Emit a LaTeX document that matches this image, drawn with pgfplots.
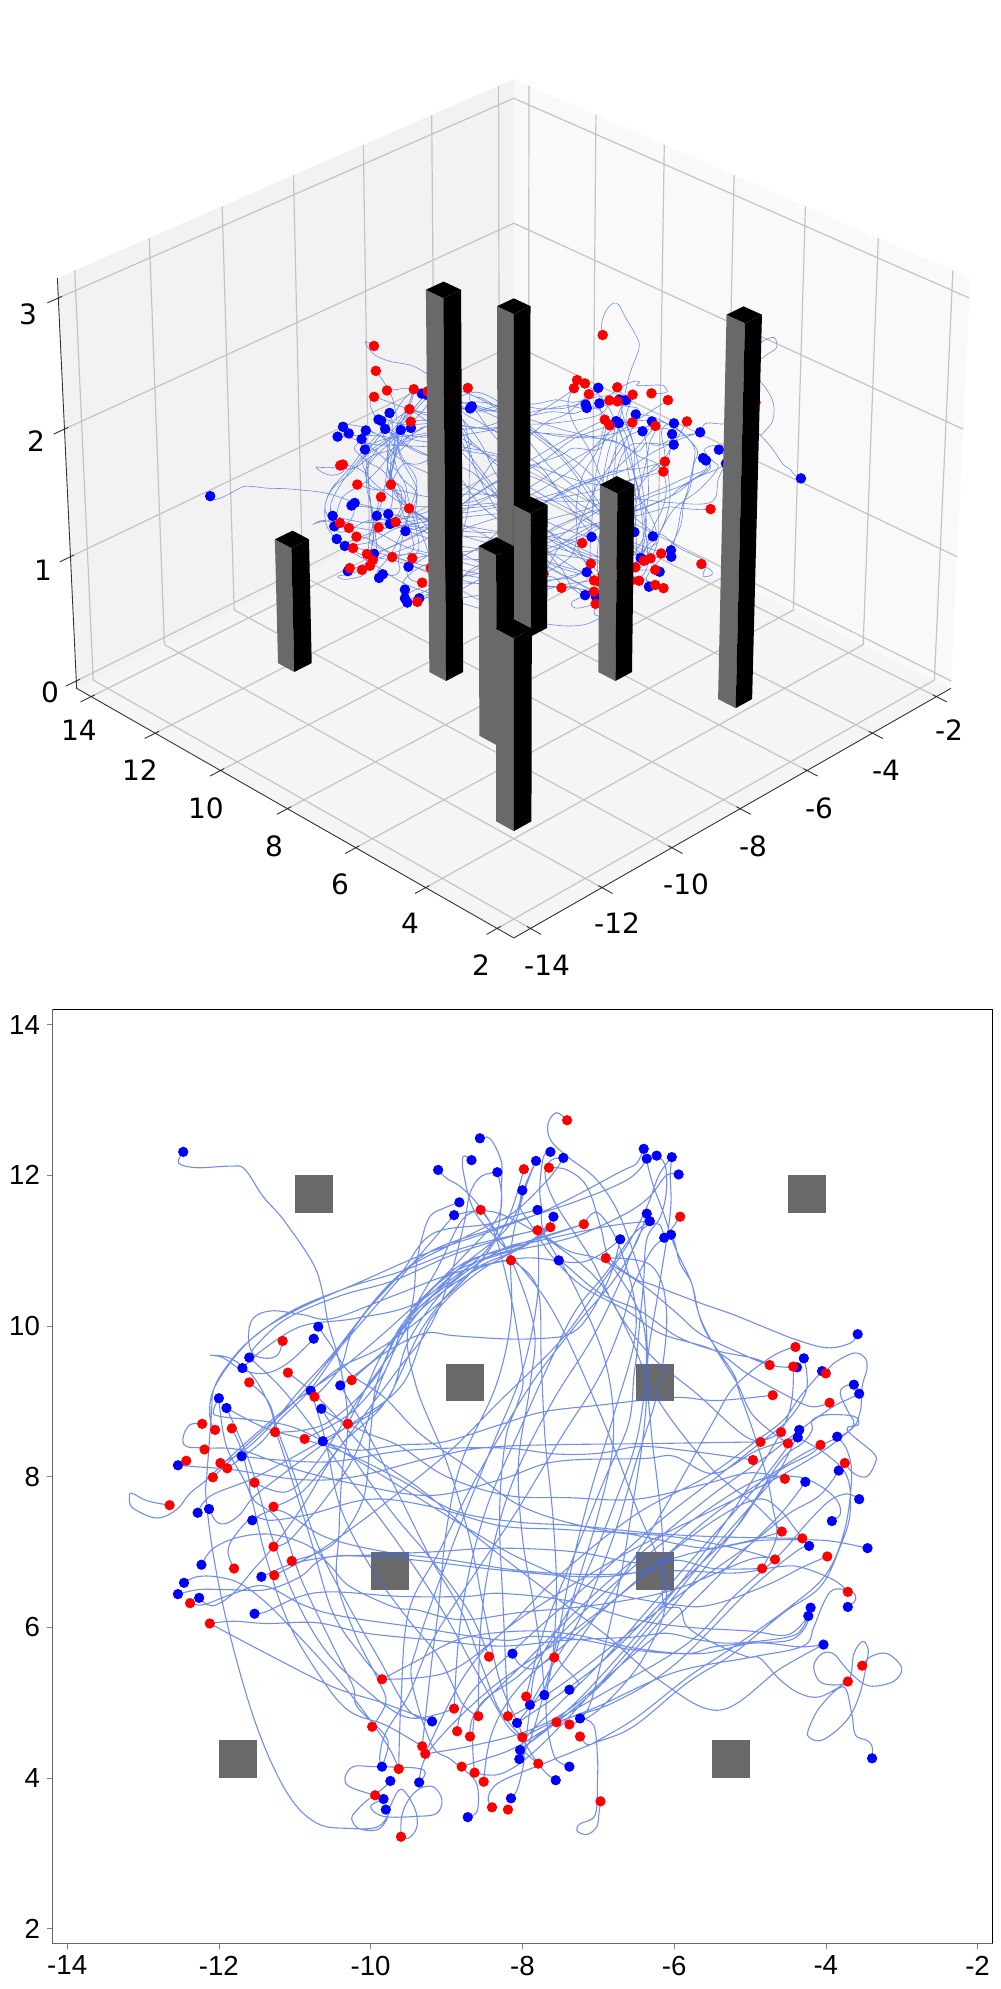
\documentclass[border=0pt]{standalone}
\usepackage{pgfplots}
\usepackage{pgfplotstable}
\usepackage{fontspec}
\setmainfont{Liberation Sans}
\newfontfamily\djv{DejaVu Sans}
\pgfplotsset{compat=1.18}
\definecolor{traj}{HTML}{4169E1}
\definecolor{obst}{HTML}{696969}
\definecolor{gridc}{HTML}{C4C4C4}

% start / end points, x y z
\pgfplotstableread{
x y z
-12.47 12.31 1.5
-9.11 12.07 1.55
-8.67 12.20 1.5
-8.56 12.49 1.5
-8.33 12.04 1.5
-8.83 11.64 1.55
-8.90 11.47 1.5
-10.69 9.99 1.5
-10.75 9.83 1.55
-11.60 9.58 1.6
-11.69 9.44 1.55
-10.40 9.21 1.5
-10.79 9.14 1.55
-10.65 8.90 1.5
-12.00 9.04 1.55
-11.90 8.91 1.5
-10.63 8.47 1.5
-11.70 8.27 1.5
-12.54 8.15 1.5
-6.40 12.35 1.5
-6.36 12.22 1.5
-6.23 12.26 1.5
-6.03 12.24 1.5
-5.94 12.01 1.5
-7.63 12.31 1.45
-7.46 12.23 1.5
-7.82 12.19 1.5
-8.00 11.80 1.5
-7.80 11.54 1.5
-7.59 11.45 1.5
-6.36 11.49 1.5
-6.32 11.39 1.5
-6.71 11.15 1.5
-6.13 11.17 1.5
-6.04 11.21 1.5
-7.52 10.87 1.45
-3.58 9.89 1.5
-4.29 9.57 1.5
-4.38 9.45 1.5
-4.05 9.40 1.5
-3.63 9.22 1.5
-3.56 9.10 1.5
-4.35 8.62 1.5
-4.37 8.52 1.5
-3.85 8.53 1.5
-3.83 8.08 1.5
-4.27 7.93 1.5
-3.56 7.70 1.5
-12.28 7.52 1.5
-12.13 7.57 1.5
-11.56 7.42 1.5
-12.23 6.83 1.5
-11.44 6.67 1.5
-12.46 6.59 1.5
-12.54 6.44 1.5
-12.26 6.39 1.5
-11.53 6.18 1.5
-9.19 4.75 1.5
-9.85 4.15 1.5
-9.74 3.96 1.5
-9.36 3.94 1.5
-9.83 3.72 1.5
-9.80 3.58 1.5
-8.72 3.48 1.5
-3.92 7.41 1.5
-4.22 7.08 1.5
-3.45 7.05 1.5
-4.20 6.26 1.5
-4.23 6.15 1.5
-3.71 6.27 1.5
-4.03 5.77 1.5
-3.39 4.26 1.5
-8.13 5.65 1.5
-7.38 5.17 1.5
-7.71 5.10 1.5
-7.90 4.97 1.5
-8.07 4.73 1.5
-7.24 4.79 1.5
-8.03 4.37 1.5
-8.04 4.25 1.5
-7.38 4.15 1.5
-7.56 3.97 1.5
-8.15 3.73 1.5
}\bluepts
\pgfplotstableread{
x y z
-8.55 11.54 1.86
-11.16 9.80 1.9
-11.09 9.38 1.8
-11.60 9.25 2.04
-10.25 9.28 1.7
-10.74 9.06 1.7
-12.22 8.70 1.75
-12.05 8.62 1.7
-11.83 8.64 1.6
-11.26 8.59 1.6
-10.30 8.70 1.6
-10.87 8.50 1.6
-12.19 8.36 1.6
-12.43 8.21 1.5
-11.98 8.18 1.55
-11.89 8.11 1.5
-12.08 7.99 1.5
-11.53 7.92 1.5
-7.41 12.73 1.96
-7.98 12.08 1.92
-7.65 12.10 1.72
-7.80 11.27 1.7
-7.63 11.31 1.83
-7.19 11.35 1.75
-8.15 10.87 1.7
-6.90 10.90 1.7
-5.92 11.45 1.6
-4.40 9.72 1.69
-4.74 9.48 1.7
-4.43 9.46 1.7
-4.00 9.37 2.04
-4.70 9.08 1.7
-3.95 8.98 1.67
-4.59 8.59 1.7
-4.86 8.46 1.6
-4.50 8.44 1.7
-4.07 8.42 1.7
-4.96 8.22 1.6
-3.75 8.18 1.7
-4.54 7.97 1.6
-12.65 7.62 1.6
-11.28 7.60 1.5
-11.28 7.07 1.5
-11.04 6.88 1.5
-11.80 6.78 1.5
-11.27 6.69 1.5
-12.38 6.32 1.5
-12.12 6.05 1.5
-9.85 5.31 1.5
-9.98 4.68 1.5
-8.44 5.61 1.5
-8.90 4.92 1.5
-8.58 4.82 1.45
-8.86 4.62 1.45
-8.69 4.55 1.45
-9.32 4.42 1.5
-9.28 4.32 1.5
-9.63 4.12 1.5
-8.80 4.15 1.45
-8.63 4.07 1.45
-8.51 3.95 1.45
-9.94 3.77 1.5
-8.40 3.61 1.45
-9.60 3.22 1.5
-4.58 7.27 1.67
-4.31 7.18 1.85
-3.98 6.94 1.67
-4.67 6.90 1.45
-4.84 6.78 1.41
-3.71 6.47 1.0
-3.52 5.49 2.2
-3.71 5.28 2.0
-7.58 5.60 1.4
-7.95 5.08 1.4
-8.19 4.82 1.4
-8.00 4.54 1.4
-7.55 4.74 1.36
-7.38 4.71 1.36
-7.24 4.55 1.4
-7.79 4.19 1.4
-6.97 3.69 1.4
-8.19 3.58 1.4
}\redpts

% flight paths, nan row between two paths
\pgfplotstableread[row sep=\\]{
x y z\\
-12.47 12.31 1.5\\ -12.53 12.16 1.5\\ -12.29 12.10 1.5\\ -11.85 12.12 1.5\\ -11.66 12.08 1.5\\ -11.42 11.72 1.5\\ -11.15 11.41 1.5\\ -10.76 10.83 1.5\\ -10.63 10.43 1.5\\ -10.56 10.04 1.5\\ -10.40 9.46 1.5\\ -10.30 8.72 1.5\\ -10.38 8.00 1.5\\ -10.42 7.20 1.5\\ -10.44 6.60 1.5\\ -10.20 5.90 1.5\\ -9.90 5.30 1.5\\ -9.80 5.00 1.5\\ -9.98 4.68 1.5\\ nan nan nan\\
-9.11 12.07 1.55\\ -9.00 11.96 1.55\\ -8.82 11.85 1.55\\ -8.60 11.63 1.55\\ -8.38 11.27 1.55\\ -8.20 10.60 1.5\\ -8.08 10.00 1.5\\ -7.99 9.30 1.5\\ -8.07 8.95 1.5\\ -8.22 8.50 1.5\\ -8.30 7.50 1.45\\ -8.25 6.20 1.4\\ -8.19 4.82 1.4\\ nan nan nan\\
-8.67 12.20 1.5\\ -8.78 12.25 1.5\\ -8.77 12.00 1.5\\ -8.62 11.50 1.5\\ -8.20 11.00 1.5\\ -7.60 10.20 1.5\\ -7.00 8.90 1.5\\ -6.50 7.60 1.45\\ -6.10 6.50 1.45\\ -6.40 5.60 1.4\\ -7.00 4.90 1.4\\ -7.38 4.71 1.36\\ nan nan nan\\
-8.56 12.49 1.5\\ -8.43 12.49 1.5\\ -8.30 12.25 1.5\\ -8.27 12.00 1.5\\ -8.35 11.20 1.5\\ -8.80 10.70 1.5\\ -9.50 10.10 1.5\\ -9.90 9.30 1.5\\ -10.00 8.60 1.5\\ -10.10 7.70 1.5\\ -10.50 7.10 1.5\\ -11.04 6.88 1.5\\ nan nan nan\\
-8.33 12.04 1.5\\ -8.55 11.98 1.5\\ -8.69 11.76 1.5\\ -8.76 11.40 1.5\\ -8.91 10.79 1.5\\ -9.09 10.26 1.5\\ -9.30 9.86 1.5\\ -9.61 9.46 1.5\\ -9.95 9.00 1.5\\ -10.40 8.40 1.5\\ -10.90 7.80 1.5\\ -11.28 7.60 1.5\\ nan nan nan\\
-8.83 11.64 1.55\\ -9.04 11.56 1.55\\ -9.22 11.45 1.55\\ -9.33 11.14 1.55\\ -9.40 10.79 1.55\\ -9.44 10.35 1.55\\ -9.57 9.90 1.5\\ -9.83 9.50 1.5\\ -10.14 9.06 1.5\\ -10.70 8.20 1.5\\ -11.10 7.80 1.5\\ -11.53 7.92 1.5\\ nan nan nan\\
-8.90 11.47 1.5\\ -8.55 11.53 1.5\\ -8.20 11.45 1.5\\ -7.60 11.10 1.5\\ -7.00 10.60 1.55\\ -6.60 9.90 1.55\\ -6.20 9.00 1.6\\ -5.50 8.10 1.6\\ -4.90 7.60 1.65\\ -4.58 7.27 1.67\\ nan nan nan\\
-10.69 9.99 1.5\\ -10.54 9.77 1.5\\ -10.27 9.37 1.5\\ -9.83 9.06 1.5\\ -9.35 8.57 1.5\\ -8.73 8.13 1.5\\ -8.00 7.60 1.5\\ -7.00 7.30 1.5\\ -6.00 7.20 1.5\\ -5.20 7.05 1.45\\ -4.67 6.90 1.45\\ nan nan nan\\
-10.75 9.83 1.55\\ -11.10 9.50 1.55\\ -11.40 9.37 1.55\\ -11.70 9.42 1.6\\ -11.95 9.58 1.6\\ -12.12 9.61 1.6\\ -11.85 9.57 1.6\\ -11.55 9.33 1.55\\ -11.33 8.93 1.55\\ -11.24 8.58 1.55\\ -11.06 8.03 1.5\\ -10.80 7.20 1.5\\ -10.50 6.20 1.5\\ -10.10 5.60 1.5\\ -9.85 5.31 1.5\\ nan nan nan\\
-11.60 9.58 1.6\\ -11.50 9.75 1.6\\ -11.10 10.10 1.6\\ -10.40 10.40 1.65\\ -9.70 10.60 1.7\\ -8.90 10.95 1.7\\ -8.10 11.20 1.8\\ -7.63 11.31 1.83\\ nan nan nan\\
-11.69 9.44 1.55\\ -11.40 9.70 1.55\\ -10.90 10.00 1.6\\ -10.20 10.10 1.6\\ -9.40 10.30 1.65\\ -8.70 10.85 1.7\\ -8.00 11.10 1.7\\ -7.19 11.35 1.75\\ nan nan nan\\
-6.71 11.15 1.5\\ -7.20 10.85 1.5\\ -8.00 10.90 1.55\\ -8.90 10.70 1.6\\ -9.70 10.40 1.7\\ -10.50 10.10 1.75\\ -10.90 10.15 1.8\\ -11.30 10.20 1.85\\ -11.55 10.10 1.9\\ -11.61 9.85 1.9\\ -11.55 9.63 1.9\\ -11.37 9.57 1.9\\ -11.22 9.62 1.9\\ -11.16 9.80 1.9\\ nan nan nan\\
-10.40 9.21 1.5\\ -9.90 9.60 1.5\\ -9.30 10.25 1.55\\ -8.60 10.75 1.6\\ -8.15 10.87 1.7\\ nan nan nan\\
-10.79 9.14 1.55\\ -10.40 9.45 1.6\\ -9.80 9.75 1.65\\ -9.10 10.30 1.7\\ -8.60 10.80 1.75\\ -8.20 11.40 1.85\\ -7.98 12.08 1.92\\ nan nan nan\\
-10.65 8.90 1.5\\ -10.49 8.80 1.5\\ -10.05 8.58 1.5\\ -9.61 8.40 1.5\\ -9.00 8.00 1.5\\ -8.20 7.75 1.5\\ -7.40 7.72 1.5\\ -6.50 7.70 1.55\\ -5.60 7.90 1.6\\ -5.00 8.05 1.6\\ -4.54 7.97 1.6\\ nan nan nan\\
-12.00 9.04 1.55\\ -12.07 8.88 1.55\\ -11.99 8.80 1.55\\ -11.37 8.73 1.55\\ -10.93 8.62 1.55\\ -10.27 8.27 1.55\\ -9.39 7.73 1.55\\ -8.70 7.30 1.55\\ -8.00 6.90 1.6\\ -7.00 6.50 1.6\\ -6.00 6.30 1.6\\ -5.50 6.30 1.6\\ -4.80 6.55 1.65\\ -4.30 6.80 1.65\\ -3.98 6.94 1.67\\ nan nan nan\\
-11.90 8.91 1.5\\ -11.40 8.65 1.5\\ -10.90 8.50 1.55\\ -10.30 8.30 1.55\\ -9.60 7.95 1.6\\ -8.90 7.55 1.6\\ -8.10 7.40 1.65\\ -7.30 7.35 1.7\\ -6.30 7.25 1.75\\ -5.40 7.20 1.8\\ -4.31 7.18 1.85\\ nan nan nan\\
-10.63 8.47 1.5\\ -10.20 8.35 1.5\\ -9.61 8.42 1.5\\ -9.04 8.46 1.55\\ -8.29 8.69 1.55\\ -7.72 8.86 1.6\\ -6.97 8.95 1.6\\ -6.01 9.05 1.65\\ -5.44 9.01 1.65\\ -4.70 9.08 1.7\\ nan nan nan\\
-11.70 8.27 1.5\\ -11.20 8.22 1.5\\ -10.49 8.20 1.5\\ -9.50 8.35 1.5\\ -8.29 8.38 1.55\\ -7.55 8.30 1.55\\ -6.98 8.31 1.55\\ -6.45 8.40 1.55\\ -5.88 8.35 1.6\\ -5.22 8.26 1.6\\ -4.96 8.22 1.6\\ nan nan nan\\
-12.54 8.15 1.5\\ -12.30 8.13 1.5\\ -11.81 8.09 1.5\\ -10.93 7.96 1.5\\ -10.20 8.00 1.5\\ -9.20 8.25 1.55\\ -8.29 8.40 1.55\\ -6.18 8.44 1.6\\ -4.86 8.46 1.6\\ nan nan nan\\
-6.40 12.35 1.5\\ -6.50 12.15 1.5\\ -6.70 12.05 1.5\\ -7.59 11.58 1.55\\ -8.29 11.30 1.55\\ -9.30 10.95 1.6\\ -10.10 10.60 1.6\\ -11.00 10.20 1.65\\ -11.60 9.80 1.65\\ -12.05 9.20 1.7\\ -12.12 8.80 1.7\\ -12.05 8.62 1.7\\ nan nan nan\\
-6.36 12.22 1.5\\ -6.34 12.10 1.5\\ -6.27 11.85 1.5\\ -6.14 11.50 1.5\\ -5.99 11.05 1.55\\ -5.77 10.57 1.55\\ -5.66 10.12 1.6\\ -5.44 9.68 1.6\\ -5.17 9.24 1.65\\ -4.95 8.80 1.65\\ -4.50 8.44 1.7\\ nan nan nan\\
-6.23 12.26 1.5\\ -6.12 12.14 1.5\\ -6.10 11.80 1.5\\ -6.18 11.45 1.5\\ -6.36 11.15 1.5\\ -6.40 10.60 1.5\\ -6.45 10.08 1.5\\ -6.49 9.64 1.5\\ -6.53 9.33 1.45\\ -6.60 8.70 1.45\\ -6.90 8.00 1.45\\ -7.30 7.00 1.4\\ -7.70 6.00 1.4\\ -7.95 5.08 1.4\\ nan nan nan\\
-6.03 12.24 1.5\\ -6.20 12.00 1.5\\ -6.35 11.60 1.5\\ -6.60 11.10 1.5\\ -7.00 10.50 1.5\\ -7.50 9.80 1.5\\ -8.30 9.00 1.5\\ -9.00 8.30 1.5\\ -10.00 7.50 1.5\\ -10.70 7.00 1.5\\ -11.27 6.69 1.5\\ nan nan nan\\
-5.94 12.01 1.5\\ -6.10 12.00 1.5\\ -6.32 11.72 1.5\\ -6.62 11.50 1.5\\ -7.19 11.23 1.5\\ -7.63 11.10 1.55\\ -8.29 10.95 1.55\\ -9.00 10.65 1.55\\ -9.60 10.00 1.6\\ -9.95 9.30 1.6\\ -10.60 8.70 1.6\\ -11.26 8.59 1.6\\ nan nan nan\\
-7.63 12.31 1.45\\ -7.72 12.25 1.45\\ -7.77 11.85 1.45\\ -7.75 11.58 1.45\\ -7.70 11.20 1.45\\ -7.30 10.50 1.45\\ -6.90 9.50 1.45\\ -6.80 8.50 1.45\\ -7.00 7.50 1.4\\ -7.30 6.50 1.4\\ -7.58 5.60 1.4\\ nan nan nan\\
-7.24 4.79 1.5\\ -7.10 5.00 1.5\\ -6.90 5.80 1.5\\ -6.70 6.70 1.55\\ -6.55 7.60 1.6\\ -6.40 8.60 1.6\\ -6.35 9.50 1.65\\ -6.40 10.48 1.7\\ -6.45 10.70 1.7\\ -6.71 11.45 1.75\\ -7.02 11.94 1.85\\ -7.41 12.25 1.9\\ -7.63 12.47 1.95\\ -7.66 12.69 2.0\\ -7.55 12.83 2.0\\ -7.41 12.73 1.96\\ nan nan nan\\
-7.46 12.23 1.5\\ -7.62 12.20 1.5\\ -7.70 12.00 1.5\\ -7.55 11.60 1.5\\ -7.10 10.90 1.55\\ -6.75 10.20 1.55\\ -6.30 9.60 1.6\\ -5.70 9.10 1.6\\ -5.00 8.50 1.65\\ -4.59 8.59 1.7\\ nan nan nan\\
-3.58 9.89 1.5\\ -3.68 9.77 1.5\\ -3.99 9.71 1.5\\ -4.40 9.82 1.5\\ -4.78 9.97 1.55\\ -5.22 10.15 1.55\\ -5.70 10.32 1.6\\ -6.30 10.55 1.6\\ -6.50 10.62 1.6\\ -6.85 10.90 1.65\\ -6.97 11.32 1.65\\ -7.15 11.85 1.7\\ -7.41 12.07 1.7\\ -7.65 12.10 1.72\\ nan nan nan\\
-7.82 12.19 1.5\\ -8.00 11.70 1.5\\ -8.15 11.00 1.5\\ -8.15 10.10 1.5\\ -8.35 9.20 1.5\\ -8.80 8.20 1.5\\ -9.00 7.30 1.5\\ -9.10 6.30 1.5\\ -9.20 5.50 1.5\\ -9.32 4.42 1.5\\ nan nan nan\\
-8.00 11.80 1.5\\ -8.03 11.58 1.5\\ -7.90 11.36 1.5\\ -7.59 10.90 1.5\\ -7.20 10.52 1.55\\ -6.62 10.20 1.55\\ -6.18 9.90 1.6\\ -5.48 9.68 1.6\\ -5.04 9.37 1.6\\ -4.56 9.10 1.65\\ -4.20 8.93 1.65\\ -3.95 8.98 1.67\\ nan nan nan\\
-7.80 11.54 1.5\\ -8.29 11.40 1.5\\ -8.90 11.10 1.55\\ -9.60 10.70 1.55\\ -10.20 10.00 1.6\\ -10.40 9.45 1.65\\ -10.74 9.06 1.7\\ nan nan nan\\
-7.59 11.45 1.5\\ -7.90 11.10 1.5\\ -8.60 10.85 1.5\\ -9.30 10.30 1.55\\ -9.80 9.70 1.55\\ -10.05 9.20 1.6\\ -10.30 8.70 1.6\\ nan nan nan\\
-6.36 11.49 1.5\\ -6.50 11.10 1.5\\ -6.80 10.60 1.5\\ -7.30 10.00 1.5\\ -7.90 9.20 1.5\\ -8.60 8.00 1.5\\ -9.10 7.00 1.5\\ -9.50 6.20 1.5\\ -9.60 5.00 1.5\\ -9.63 4.12 1.5\\ nan nan nan\\
-6.32 11.39 1.5\\ -6.55 11.20 1.5\\ -6.90 10.70 1.5\\ -7.30 10.20 1.5\\ -7.60 9.60 1.5\\ -8.00 8.70 1.5\\ -8.50 7.50 1.5\\ -8.80 6.20 1.5\\ -8.90 4.92 1.5\\ nan nan nan\\
-6.13 11.17 1.5\\ -6.20 11.35 1.5\\ -6.40 11.30 1.5\\ -6.55 11.00 1.5\\ -6.75 10.50 1.5\\ -7.10 9.80 1.5\\ -7.60 9.00 1.5\\ -8.10 8.00 1.5\\ -8.40 7.00 1.5\\ -8.55 6.00 1.45\\ -8.58 4.82 1.45\\ nan nan nan\\
-6.04 11.21 1.5\\ -5.99 11.10 1.5\\ -5.92 10.83 1.5\\ -5.77 10.57 1.5\\ -5.70 10.25 1.5\\ -5.57 9.90 1.5\\ -5.22 9.37 1.45\\ -5.15 9.15 1.45\\ -4.95 8.58 1.45\\ -4.78 8.00 1.45\\ -4.70 7.60 1.4\\ -4.65 7.20 1.4\\ -4.84 6.78 1.41\\ nan nan nan\\
-9.85 4.15 1.5\\ -9.88 4.28 1.5\\ -9.80 4.60 1.5\\ -9.50 5.10 1.5\\ -9.20 5.80 1.5\\ -8.70 6.60 1.5\\ -8.10 7.50 1.5\\ -7.50 8.50 1.55\\ -7.00 9.30 1.55\\ -6.70 10.00 1.55\\ -6.55 10.50 1.6\\ -6.30 11.00 1.6\\ -6.10 11.20 1.6\\ -5.92 11.45 1.6\\ nan nan nan\\
-7.52 10.87 1.45\\ -7.42 10.80 1.45\\ -6.97 10.43 1.5\\ -6.45 10.20 1.5\\ -5.96 9.86 1.55\\ -5.48 9.68 1.6\\ -4.95 9.57 1.65\\ -4.74 9.48 1.7\\ nan nan nan\\
-4.29 9.57 1.5\\ -4.25 9.37 1.5\\ -4.27 9.10 1.5\\ -4.50 8.75 1.5\\ -4.86 8.45 1.5\\ -5.43 8.00 1.5\\ -6.20 7.40 1.5\\ -7.10 6.60 1.5\\ -8.00 5.80 1.45\\ -8.70 5.10 1.45\\ -8.86 4.62 1.45\\ nan nan nan\\
-4.38 9.45 1.5\\ -4.74 9.48 1.5\\ -5.22 9.68 1.55\\ -5.66 9.90 1.55\\ -6.00 10.20 1.6\\ -6.45 10.57 1.6\\ -6.97 10.88 1.65\\ -7.40 11.00 1.65\\ -7.80 11.27 1.7\\ nan nan nan\\
-4.05 9.40 1.5\\ -4.34 9.06 1.5\\ -4.56 8.75 1.5\\ -4.95 8.45 1.5\\ -5.57 8.00 1.5\\ -6.50 7.50 1.5\\ -7.50 6.70 1.5\\ -8.30 5.90 1.5\\ -9.00 5.40 1.5\\ -9.85 5.31 1.5\\ nan nan nan\\
-3.63 9.22 1.5\\ -3.75 9.20 1.5\\ -3.81 9.10 1.5\\ -3.70 8.85 1.5\\ -3.63 8.72 1.5\\ -3.70 8.60 1.5\\ -4.10 8.30 1.5\\ -4.80 7.90 1.5\\ -5.60 7.50 1.5\\ -6.60 7.00 1.5\\ -7.60 6.40 1.5\\ -8.30 5.90 1.5\\ -8.80 5.30 1.5\\ -9.28 4.32 1.5\\ nan nan nan\\
-3.56 9.10 1.5\\ -3.72 9.02 1.5\\ -3.90 8.93 1.5\\ -4.34 8.62 1.5\\ -4.78 8.27 1.5\\ -5.22 7.96 1.5\\ -5.57 7.70 1.5\\ -6.30 7.10 1.5\\ -7.20 6.30 1.45\\ -8.00 5.50 1.45\\ -8.60 4.90 1.45\\ -8.69 4.55 1.45\\ nan nan nan\\
-9.36 3.94 1.5\\ -9.20 4.40 1.5\\ -8.40 5.20 1.55\\ -7.40 5.90 1.6\\ -6.50 6.60 1.65\\ -5.60 7.40 1.7\\ -4.90 7.90 1.8\\ -4.30 8.30 1.9\\ -3.70 8.60 2.0\\ -3.55 8.85 2.05\\ -3.52 9.20 2.15\\ -3.46 9.42 2.2\\ -3.48 9.57 2.2\\ -3.63 9.64 2.15\\ -3.90 9.50 2.1\\ -4.00 9.37 2.04\\ nan nan nan\\
-12.13 7.57 1.5\\ -12.03 7.40 1.5\\ -11.90 7.38 1.5\\ -11.72 7.50 1.5\\ -11.55 7.72 1.5\\ -11.20 8.00 1.55\\ -10.40 8.60 1.6\\ -9.60 9.20 1.65\\ -9.20 10.10 1.7\\ -8.60 10.70 1.75\\ -7.90 11.10 1.8\\ -7.63 11.31 1.83\\ nan nan nan\\
-12.28 7.52 1.5\\ -12.10 7.75 1.5\\ -11.50 8.00 1.5\\ -10.60 8.50 1.55\\ -9.80 9.00 1.6\\ -9.50 9.80 1.6\\ -9.00 10.50 1.65\\ -8.30 11.00 1.7\\ -7.80 11.15 1.72\\ -7.19 11.35 1.75\\ nan nan nan\\
-3.45 7.05 1.5\\ -3.90 7.14 1.5\\ -4.25 7.16 1.5\\ -4.90 7.15 1.5\\ -5.57 7.05 1.5\\ -6.30 7.18 1.5\\ -6.70 7.25 1.5\\ -7.50 7.30 1.5\\ -8.30 7.35 1.5\\ -9.20 7.60 1.5\\ -10.00 7.70 1.5\\ -10.80 7.50 1.5\\ -11.30 7.42 1.5\\ -11.56 7.45 1.5\\ -11.80 7.20 1.5\\ -11.88 7.00 1.5\\ -11.80 6.78 1.5\\ nan nan nan\\
-11.56 7.42 1.5\\ -11.20 7.55 1.5\\ -10.60 7.20 1.5\\ -9.80 7.00 1.45\\ -9.00 6.90 1.4\\ -8.00 6.75 1.35\\ -7.00 6.70 1.3\\ -6.00 6.75 1.2\\ -5.20 6.72 1.15\\ -4.65 6.80 1.1\\ -4.34 6.80 1.05\\ -3.90 6.63 1.0\\ -3.71 6.47 1.0\\ nan nan nan\\
-12.23 6.83 1.5\\ -12.07 7.05 1.5\\ -11.72 7.20 1.5\\ -11.28 7.23 1.5\\ -10.80 7.07 1.5\\ -10.50 6.78 1.5\\ -10.27 6.54 1.5\\ -9.70 6.27 1.5\\ -9.39 6.23 1.5\\ -8.80 6.10 1.5\\ -8.00 6.20 1.5\\ -7.00 6.30 1.5\\ -6.00 6.50 1.45\\ -5.00 6.90 1.45\\ -4.67 6.90 1.45\\ nan nan nan\\
-11.44 6.67 1.5\\ -11.37 6.70 1.5\\ -11.15 6.80 1.5\\ -10.93 6.87 1.5\\ -10.49 6.94 1.5\\ -10.05 6.94 1.5\\ -9.39 6.89 1.5\\ -8.29 6.76 1.5\\ -7.19 6.67 1.45\\ -6.54 6.72 1.45\\ -6.00 6.89 1.45\\ -5.48 6.78 1.45\\ -4.84 6.78 1.41\\ nan nan nan\\
-12.46 6.59 1.5\\ -12.29 6.67 1.5\\ -12.03 6.67 1.5\\ -11.72 6.58 1.5\\ -11.37 6.32 1.5\\ -11.02 5.96 1.5\\ -10.58 5.48 1.5\\ -10.14 4.95 1.5\\ -9.77 4.42 1.5\\ -9.63 4.12 1.5\\ nan nan nan\\
-12.54 6.44 1.5\\ -12.26 6.50 1.5\\ -11.90 6.50 1.5\\ -11.37 6.50 1.5\\ -10.93 6.67 1.5\\ -10.60 6.92 1.5\\ -10.00 6.96 1.5\\ -9.20 7.00 1.55\\ -8.30 7.05 1.55\\ -7.30 7.00 1.6\\ -6.40 6.85 1.6\\ -5.70 7.00 1.6\\ -5.00 7.15 1.65\\ -4.58 7.27 1.67\\ nan nan nan\\
-12.26 6.39 1.5\\ -12.15 6.30 1.5\\ -12.03 6.30 1.5\\ -11.81 6.45 1.5\\ -11.55 6.76 1.5\\ -11.28 7.07 1.55\\ -10.90 7.60 1.55\\ -10.40 8.40 1.6\\ -9.80 9.00 1.65\\ -9.30 10.00 1.7\\ -8.70 10.70 1.75\\ -8.10 11.00 1.8\\ -7.63 11.31 1.83\\ nan nan nan\\
-11.53 6.18 1.5\\ -11.37 6.21 1.5\\ -10.93 6.41 1.5\\ -10.49 6.47 1.5\\ -9.61 6.41 1.5\\ -8.73 6.41 1.5\\ -8.29 6.45 1.5\\ -7.40 6.35 1.5\\ -6.50 6.10 1.5\\ -5.80 6.00 1.5\\ -5.00 5.95 1.5\\ -4.50 5.90 1.5\\ -4.23 6.15 1.5\\ nan nan nan\\
-4.20 6.26 1.5\\ -4.30 6.00 1.5\\ -4.50 5.87 1.5\\ -5.22 5.79 1.5\\ -5.66 5.83 1.5\\ -6.10 5.92 1.5\\ -6.54 5.87 1.5\\ -7.40 5.83 1.5\\ -8.29 5.75 1.5\\ -9.17 5.83 1.5\\ -10.05 5.92 1.5\\ -10.71 6.06 1.5\\ -11.37 6.05 1.5\\ -11.81 6.08 1.5\\ -12.12 6.05 1.5\\ nan nan nan\\
-4.23 6.15 1.5\\ -4.27 6.00 1.5\\ -4.47 5.83 1.5\\ -4.95 5.79 1.5\\ -5.48 5.74 1.5\\ -5.83 5.65 1.5\\ -6.54 5.70 1.5\\ -7.20 5.83 1.5\\ -7.85 5.88 1.5\\ -8.29 5.83 1.5\\ -9.40 6.00 1.5\\ -10.40 6.15 1.5\\ -10.90 6.30 1.5\\ -11.40 6.55 1.5\\ -11.80 6.45 1.5\\ -12.20 6.30 1.5\\ -12.38 6.32 1.5\\ nan nan nan\\
-4.03 5.77 1.5\\ -4.34 5.74 1.5\\ -4.95 5.79 1.5\\ -5.66 5.65 1.5\\ -6.50 5.72 1.5\\ -7.30 5.90 1.5\\ -8.00 5.95 1.5\\ -8.80 5.85 1.5\\ -9.40 5.55 1.5\\ -9.85 5.31 1.5\\ nan nan nan\\
-9.19 4.75 1.5\\ -9.85 5.00 1.5\\ -10.50 5.21 1.5\\ -11.37 5.65 1.5\\ -12.12 6.05 1.5\\ nan nan nan\\
-8.72 3.48 1.5\\ -8.60 3.55 1.5\\ -8.58 3.80 1.5\\ -8.65 4.00 1.5\\ -8.95 4.25 1.5\\ -9.20 4.45 1.5\\ -9.46 5.30 1.5\\ -9.39 5.74 1.5\\ -9.17 6.40 1.55\\ -8.80 7.40 1.55\\ -8.40 8.40 1.6\\ -8.00 9.40 1.6\\ -7.80 10.40 1.65\\ -7.80 11.27 1.7\\ nan nan nan\\
-9.36 3.94 1.5\\ -9.28 4.06 1.5\\ -9.39 4.13 1.5\\ -9.96 4.15 1.5\\ -10.23 4.15 1.5\\ -10.34 4.00 1.5\\ -10.27 3.88 1.5\\ -9.94 3.77 1.5\\ nan nan nan\\
-9.74 3.96 1.5\\ -9.85 3.85 1.5\\ -10.05 3.70 1.5\\ -10.20 3.55 1.5\\ -10.25 3.46 1.5\\ -10.16 3.33 1.5\\ -9.92 3.31 1.5\\ -9.79 3.44 1.5\\ -9.75 3.60 1.5\\ -9.60 3.85 1.5\\ -9.42 3.60 1.5\\ -9.39 3.35 1.5\\ -9.50 3.20 1.5\\ -9.60 3.22 1.5\\ nan nan nan\\
-9.83 3.72 1.5\\ -10.00 3.62 1.5\\ -9.83 3.49 1.5\\ -9.39 3.49 1.5\\ -9.13 3.53 1.5\\ -9.06 3.71 1.5\\ -9.17 3.88 1.5\\ -9.35 3.86 1.5\\ -9.50 3.71 1.5\\ -9.59 3.49 1.5\\ -9.60 3.22 1.5\\ nan nan nan\\
-9.80 3.58 1.5\\ -9.76 3.53 1.5\\ -9.91 3.35 1.5\\ -10.27 3.33 1.5\\ -10.71 3.40 1.5\\ -11.10 3.80 1.5\\ -11.50 4.68 1.5\\ -11.85 5.88 1.5\\ -12.07 6.94 1.5\\ -12.17 7.73 1.55\\ -12.16 8.00 1.55\\ -12.10 8.80 1.55\\ -12.07 9.15 1.6\\ -11.90 9.46 1.6\\ -11.59 9.81 1.65\\ -11.02 10.21 1.65\\ -10.27 10.52 1.65\\ -9.61 10.72 1.7\\ -8.73 11.05 1.7\\ -7.80 11.27 1.7\\ nan nan nan\\
-9.85 4.15 1.5\\ -9.77 4.42 1.5\\ -9.83 4.59 1.5\\ -10.18 4.95 1.5\\ -10.23 5.21 1.5\\ -10.49 5.74 1.5\\ -10.90 6.60 1.5\\ -11.20 7.40 1.55\\ -11.55 7.70 1.55\\ -11.61 8.00 1.55\\ -11.72 8.40 1.6\\ -11.83 8.64 1.6\\ nan nan nan\\
-4.27 7.93 1.5\\ -4.60 7.50 1.5\\ -5.20 6.90 1.5\\ -6.00 6.10 1.5\\ -6.70 5.50 1.5\\ -7.40 4.90 1.5\\ -8.00 4.60 1.5\\ -8.70 4.42 1.5\\ -9.28 4.32 1.5\\ nan nan nan\\
-3.83 8.08 1.5\\ -4.08 7.75 1.5\\ -4.50 7.50 1.5\\ -5.00 7.10 1.5\\ -5.70 6.60 1.45\\ -6.50 6.00 1.45\\ -7.40 5.30 1.4\\ -8.00 4.90 1.4\\ -8.19 4.82 1.4\\ nan nan nan\\
-3.92 7.41 1.5\\ -3.81 7.50 1.5\\ -3.85 7.68 1.5\\ -4.08 7.88 1.5\\ -4.40 8.00 1.5\\ -4.90 7.95 1.5\\ -5.50 7.60 1.5\\ -6.30 7.00 1.5\\ -7.20 6.20 1.5\\ -8.00 5.40 1.45\\ -8.60 4.90 1.45\\ -8.63 4.07 1.45\\ nan nan nan\\
-4.22 7.08 1.5\\ -4.40 7.30 1.5\\ -4.60 7.55 1.5\\ -4.90 7.70 1.5\\ -5.50 7.40 1.5\\ -6.40 6.70 1.5\\ -7.30 5.90 1.5\\ -8.05 5.20 1.45\\ -8.40 4.60 1.45\\ -8.51 3.95 1.45\\ nan nan nan\\
-3.56 7.70 1.5\\ -3.72 7.77 1.5\\ -3.95 7.68 1.5\\ -4.25 7.38 1.5\\ -4.51 7.07 1.5\\ -4.78 6.80 1.5\\ -5.22 6.40 1.5\\ -5.66 5.92 1.5\\ -6.10 5.60 1.45\\ -6.80 5.20 1.45\\ -7.50 4.80 1.4\\ -8.00 4.54 1.4\\ nan nan nan\\
-3.71 6.27 1.5\\ -3.61 6.36 1.5\\ -3.65 6.47 1.5\\ -3.90 6.50 1.5\\ -4.03 6.32 1.5\\ -4.16 6.00 1.5\\ -4.30 5.75 1.5\\ -5.00 5.60 1.45\\ -6.00 5.40 1.45\\ -7.00 4.95 1.4\\ -7.55 4.74 1.36\\ nan nan nan\\
-3.39 4.26 1.5\\ -3.39 4.42 1.5\\ -3.46 4.50 1.55\\ -3.61 4.57 1.6\\ -3.66 4.86 1.7\\ -3.77 5.21 1.8\\ -4.07 4.95 1.85\\ -4.23 4.64 1.9\\ -4.21 4.53 1.95\\ -4.03 4.51 2.0\\ -3.72 4.77 2.05\\ -3.55 5.12 2.1\\ -3.45 5.60 2.15\\ -3.45 5.74 2.2\\ -3.52 5.81 2.2\\ -3.63 5.65 2.2\\ -3.71 5.28 2.2\\ -4.05 5.26 2.25\\ -4.16 5.48 2.25\\ -4.05 5.65 2.3\\ -3.90 5.65 2.3\\ -3.77 5.50 2.3\\ -3.63 5.35 2.3\\ -3.42 5.22 2.35\\ -3.11 5.28 2.35\\ -3.00 5.46 2.39\\ -3.19 5.65 2.35\\ -3.41 5.61 2.3\\ -3.52 5.49 2.2\\ nan nan nan\\
-6.03 12.24 1.5\\ -6.05 12.00 1.5\\ -6.05 11.50 1.5\\ -6.20 10.50 1.55\\ -6.35 9.50 1.6\\ -6.30 8.60 1.65\\ -6.23 8.00 1.7\\ -6.18 7.55 1.75\\ -6.14 6.97 1.8\\ -6.14 6.32 1.8\\ -5.92 6.25 1.85\\ -5.83 6.01 1.85\\ -5.48 5.79 1.9\\ -5.04 5.61 1.9\\ -4.87 5.59 1.95\\ -4.60 5.30 1.95\\ -4.34 5.12 2.0\\ -4.07 5.08 2.0\\ -3.71 5.28 2.0\\ nan nan nan\\
-7.38 5.17 1.5\\ -7.26 5.26 1.5\\ -7.46 5.48 1.45\\ -7.58 5.60 1.4\\ -7.85 5.45 1.45\\ -8.03 5.50 1.5\\ -8.13 5.65 1.5\\ nan nan nan\\
-7.71 5.10 1.5\\ -7.75 5.60 1.5\\ -7.85 6.30 1.55\\ -8.00 7.20 1.6\\ -8.05 8.20 1.65\\ -7.90 9.20 1.7\\ -7.85 10.00 1.75\\ -8.20 11.00 1.8\\ -8.55 11.54 1.86\\ nan nan nan\\
-7.90 4.97 1.5\\ -7.60 5.50 1.5\\ -7.20 6.20 1.5\\ -6.80 7.20 1.55\\ -6.50 8.20 1.6\\ -6.20 9.20 1.6\\ -6.10 10.20 1.65\\ -6.30 10.80 1.7\\ -6.90 10.90 1.7\\ nan nan nan\\
-8.07 4.73 1.5\\ -7.70 5.20 1.5\\ -7.20 5.90 1.55\\ -6.60 6.80 1.55\\ -6.00 7.80 1.6\\ -5.50 8.70 1.6\\ -5.20 9.20 1.65\\ -4.70 9.60 1.65\\ -4.40 9.72 1.69\\ nan nan nan\\
-8.03 4.37 1.5\\ -7.75 4.60 1.5\\ -7.20 5.10 1.5\\ -6.40 6.00 1.55\\ -5.60 7.00 1.55\\ -5.00 7.90 1.6\\ -4.50 8.80 1.65\\ -4.43 9.46 1.7\\ nan nan nan\\
-8.04 4.25 1.5\\ -7.90 4.50 1.5\\ -7.75 5.00 1.5\\ -7.55 5.80 1.55\\ -7.35 6.80 1.6\\ -7.10 7.80 1.6\\ -6.80 8.80 1.65\\ -6.50 10.00 1.7\\ -6.70 11.00 1.75\\ -7.00 11.50 1.75\\ -7.19 11.35 1.75\\ nan nan nan\\
-7.38 4.15 1.5\\ -7.55 4.24 1.5\\ -7.63 4.46 1.5\\ -7.68 4.77 1.5\\ -7.68 5.12 1.5\\ -7.60 5.60 1.55\\ -7.55 6.50 1.55\\ -7.60 7.50 1.6\\ -7.70 8.50 1.6\\ -7.75 9.50 1.65\\ -7.80 10.50 1.7\\ -8.15 10.87 1.7\\ nan nan nan\\
-7.56 3.97 1.5\\ -7.72 4.10 1.5\\ -7.94 4.42 1.5\\ -8.05 4.70 1.5\\ -8.30 5.30 1.55\\ -8.50 6.20 1.55\\ -8.70 7.20 1.6\\ -9.00 8.20 1.65\\ -9.40 9.20 1.7\\ -9.50 10.00 1.75\\ -9.10 10.80 1.8\\ -8.80 11.40 1.85\\ -8.55 11.54 1.86\\ nan nan nan\\
-8.15 3.73 1.5\\ -8.07 3.84 1.5\\ -7.99 4.15 1.5\\ -7.97 4.37 1.5\\ -7.90 4.90 1.5\\ -7.80 5.50 1.55\\ -7.30 6.40 1.55\\ -6.80 7.60 1.6\\ -6.45 8.70 1.6\\ -6.40 10.00 1.65\\ -6.90 10.90 1.7\\ nan nan nan\\
-7.24 4.79 1.5\\ -7.06 4.70 1.5\\ -7.01 4.28 1.45\\ -7.01 3.97 1.45\\ -7.04 3.51 1.45\\ -7.24 3.39 1.4\\ -7.28 3.30 1.4\\ -7.15 3.25 1.4\\ -7.02 3.35 1.4\\ -6.99 3.53 1.4\\ -6.97 3.69 1.4\\ nan nan nan\\
-3.85 8.53 1.5\\ -3.72 8.35 1.5\\ -3.66 8.00 1.5\\ -3.75 7.30 1.5\\ -4.00 6.70 1.5\\ -4.50 6.25 1.5\\ -5.20 5.75 1.45\\ -5.80 5.35 1.45\\ -6.50 4.80 1.45\\ -7.00 4.50 1.4\\ -7.14 4.44 1.4\\ -7.24 4.55 1.4\\ nan nan nan\\
-4.37 8.52 1.5\\ -4.00 8.30 1.5\\ -3.72 8.00 1.5\\ -3.68 7.51 1.5\\ -3.81 7.07 1.5\\ -4.07 6.54 1.5\\ -4.56 6.19 1.5\\ -5.22 5.65 1.5\\ -5.83 5.26 1.5\\ -6.54 4.68 1.5\\ -7.06 4.46 1.45\\ -7.72 4.19 1.45\\ -8.29 3.95 1.45\\ -8.45 3.75 1.45\\ -8.40 3.61 1.45\\ nan nan nan\\
-4.35 8.62 1.5\\ -4.80 8.00 1.5\\ -5.50 7.20 1.5\\ -6.20 6.40 1.5\\ -6.90 5.60 1.45\\ -7.50 5.00 1.45\\ -7.90 4.60 1.4\\ -8.00 4.40 1.4\\ -7.79 4.19 1.4\\ nan nan nan\\
-4.22 7.08 1.5\\ -4.40 7.00 1.5\\ -5.00 6.50 1.5\\ -6.00 5.50 1.5\\ -6.80 5.00 1.45\\ -7.50 4.75 1.45\\ -8.10 4.40 1.45\\ -8.50 4.25 1.45\\ -8.80 4.15 1.45\\ nan nan nan\\
-4.35 8.62 1.5\\ -4.60 8.10 1.5\\ -5.00 7.60 1.5\\ -5.60 6.90 1.5\\ -6.50 5.80 1.5\\ -7.30 4.90 1.45\\ -7.90 4.30 1.45\\ -8.30 4.05 1.45\\ -8.63 4.07 1.45\\ nan nan nan\\
-4.37 8.52 1.5\\ -4.90 8.35 1.5\\ -5.48 8.04 1.5\\ -6.00 8.27 1.55\\ -6.40 8.24 1.55\\ -7.55 8.20 1.6\\ -8.29 7.96 1.6\\ -9.20 7.75 1.65\\ -10.20 7.90 1.7\\ -11.00 8.10 1.7\\ -11.70 8.35 1.75\\ -12.15 8.38 1.75\\ -12.43 8.40 1.75\\ -12.47 8.53 1.75\\ -12.38 8.69 1.75\\ -12.22 8.70 1.75\\ nan nan nan\\
-7.46 12.23 1.5\\ -7.70 11.90 1.5\\ -8.29 11.40 1.5\\ -9.17 11.23 1.5\\ -9.60 10.70 1.5\\ -10.05 10.20 1.5\\ -10.49 9.64 1.55\\ -10.93 9.15 1.55\\ -11.37 8.62 1.55\\ -11.72 8.31 1.55\\ -11.98 8.18 1.55\\ nan nan nan\\
-6.36 12.22 1.5\\ -6.60 11.95 1.5\\ -7.30 11.65 1.5\\ -8.29 11.32 1.5\\ -9.26 10.96 1.5\\ -9.92 10.35 1.5\\ -10.36 9.77 1.5\\ -10.80 9.15 1.5\\ -11.20 8.75 1.5\\ -11.46 8.44 1.5\\ -11.89 8.11 1.5\\ nan nan nan\\
-6.32 11.39 1.5\\ -7.00 11.30 1.5\\ -8.29 11.00 1.55\\ -8.90 10.75 1.55\\ -9.50 10.10 1.55\\ -9.83 9.37 1.6\\ -10.27 8.84 1.6\\ -10.87 8.50 1.6\\ nan nan nan\\
-6.71 11.15 1.5\\ -6.85 10.65 1.5\\ -7.15 10.10 1.5\\ -7.41 9.88 1.55\\ -7.85 9.83 1.55\\ -8.29 9.83 1.6\\ -8.90 9.87 1.6\\ -9.30 9.90 1.65\\ -9.83 9.63 1.65\\ -10.25 9.28 1.7\\ nan nan nan\\
-4.03 5.77 1.5\\ -4.60 5.45 1.5\\ -5.40 4.90 1.5\\ -6.20 5.30 1.55\\ -6.90 5.90 1.6\\ -7.70 6.50 1.6\\ -8.60 7.20 1.65\\ -9.30 7.80 1.7\\ -10.00 8.30 1.7\\ -10.50 8.85 1.75\\ -10.79 9.14 1.75\\ -11.09 9.38 1.8\\ nan nan nan\\
-9.19 4.75 1.5\\ -9.50 4.90 1.55\\ -9.90 5.60 1.6\\ -10.30 6.30 1.65\\ -10.70 7.10 1.7\\ -11.00 8.00 1.8\\ -11.22 8.60 1.9\\ -11.35 9.00 2.0\\ -11.60 9.25 2.04\\ nan nan nan\\
-7.82 12.19 1.5\\ -7.95 11.90 1.5\\ -8.20 11.30 1.5\\ -8.90 10.70 1.5\\ -9.50 10.00 1.5\\ -9.85 9.30 1.5\\ -10.20 8.30 1.5\\ -10.60 7.70 1.5\\ -10.85 7.40 1.5\\ -11.10 7.13 1.5\\ -11.28 7.07 1.5\\ nan nan nan\\
-8.33 12.04 1.5\\ -8.30 11.50 1.5\\ -8.80 10.90 1.5\\ -9.50 10.20 1.55\\ -10.30 9.50 1.55\\ -11.00 9.00 1.55\\ -11.70 8.40 1.6\\ -12.16 7.96 1.6\\ -12.38 7.78 1.6\\ -12.56 7.56 1.6\\ -12.82 7.45 1.6\\ -13.13 7.58 1.6\\ -13.18 7.71 1.6\\ -13.15 7.78 1.6\\ -12.95 7.68 1.6\\ -12.65 7.62 1.6\\ nan nan nan\\
-8.90 11.47 1.5\\ -9.30 11.00 1.5\\ -9.90 10.30 1.5\\ -10.50 9.60 1.5\\ -11.00 9.00 1.5\\ -11.60 8.45 1.5\\ -12.08 7.99 1.5\\ nan nan nan\\
-8.07 4.73 1.5\\ -7.00 5.50 1.5\\ -6.00 6.50 1.55\\ -5.20 7.30 1.6\\ -4.70 8.00 1.65\\ -4.20 8.30 1.7\\ -4.07 8.42 1.7\\ nan nan nan\\
-8.03 4.37 1.5\\ -7.00 5.20 1.5\\ -6.00 6.30 1.55\\ -5.20 7.30 1.6\\ -4.60 8.20 1.65\\ -4.30 8.45 1.7\\ -4.18 8.62 1.7\\ -4.18 8.75 1.7\\ -3.99 8.82 1.7\\ -3.63 8.80 1.7\\ -3.57 8.69 1.7\\ -3.72 8.62 1.7\\ -3.37 8.31 1.7\\ -3.35 8.18 1.7\\ -3.46 8.00 1.7\\ -3.63 8.04 1.7\\ -3.75 8.18 1.7\\ nan nan nan\\
-12.00 9.04 1.55\\ -11.90 8.40 1.5\\ -11.60 7.80 1.5\\ -11.40 7.00 1.5\\ -11.10 6.10 1.5\\ -10.70 5.40 1.5\\ -10.30 4.90 1.5\\ -9.80 4.70 1.5\\ -9.32 4.42 1.5\\ nan nan nan\\
-11.90 8.91 1.5\\ -11.60 8.20 1.5\\ -11.30 7.20 1.5\\ -11.00 6.40 1.5\\ -10.60 5.70 1.5\\ -10.10 5.20 1.5\\ -9.50 4.80 1.5\\ -8.90 4.92 1.5\\ nan nan nan\\
-10.79 9.14 1.55\\ -10.60 8.50 1.5\\ -10.40 7.60 1.5\\ -10.00 6.80 1.5\\ -9.50 6.10 1.5\\ -9.10 5.60 1.5\\ -8.80 5.00 1.5\\ -8.58 4.82 1.45\\ nan nan nan\\
-10.65 8.90 1.5\\ -10.20 8.20 1.5\\ -9.70 7.50 1.5\\ -9.20 6.90 1.5\\ -8.70 6.20 1.5\\ -8.44 5.61 1.5\\ nan nan nan\\
-10.40 9.21 1.5\\ -10.00 8.50 1.5\\ -9.60 7.70 1.5\\ -9.20 6.90 1.5\\ -8.80 6.20 1.5\\ -8.50 5.40 1.45\\ -8.30 4.90 1.45\\ -8.00 4.54 1.4\\ nan nan nan\\
-11.60 9.58 1.6\\ -11.20 9.20 1.55\\ -10.80 8.70 1.55\\ -10.30 8.00 1.5\\ -9.70 7.20 1.5\\ -9.10 6.30 1.5\\ -8.60 5.40 1.45\\ -8.20 4.70 1.4\\ -8.00 4.54 1.4\\
}\paths

\begin{document}
\begin{tikzpicture}[
  declare function={
    sw(\x,\y)=((\x+8)-(\y-8))/9.1329;
    ss(\x,\y)=((\x+8)+(\y-8))/9.1329;
    cc(\z)=(\z-1.5445)/1.605;
    dd(\x,\y,\z)=17.4+0.866*ss(\x,\y)-0.375*cc(\z);
    prx(\x,\y,\z)=513.8+5493*sw(\x,\y)/dd(\x,\y,\z);
    pry(\x,\y,\z)=487.7-5493*(0.5*ss(\x,\y)+0.6495*cc(\z))/dd(\x,\y,\z);
  }]
\pgfplotsset{
  /pgfplots/table/proj/.style={
    x expr={prx(\thisrow{x},\thisrow{y},\thisrow{z})},
    y expr={pry(\thisrow{x},\thisrow{y},\thisrow{z})}},
  face/.style={fill=#1,draw=none,forget plot},
}
\newcommand{\boxfaces}[5]{%
  \addplot[face=obst] table[proj,row sep=\\]{x y z\\ #1 #3 0\\ #1 #4 0\\ #1 #4 #5\\ #1 #3 #5\\} --cycle;
  \addplot[face=black] table[proj,row sep=\\]{x y z\\ #1 #3 0\\ #2 #3 0\\ #2 #3 #5\\ #1 #3 #5\\} --cycle;
  \addplot[face=black] table[proj,row sep=\\]{x y z\\ #1 #3 #5\\ #2 #3 #5\\ #2 #4 #5\\ #1 #4 #5\\} --cycle;
}
\path[use as bounding box] (0pt,0pt) rectangle (500pt,994.5pt);

% upper panel: box drawn on a page-sized axis, camera as in declare function
\begin{axis}[
  at={(0pt,494.5pt)},anchor=south west,
  width=500pt,height=500pt,scale only axis,
  xmin=0,xmax=1000,ymin=0,ymax=1000,y dir=reverse,
  hide axis,clip mode=individual,unbounded coords=jump,
]
\addplot[face={black!5}] table[proj,row sep=\\]{x y z\\ -14.46 14.46 -0.06\\ -1.54 14.46 -0.06\\ -1.54 14.46 3.15\\ -14.46 14.46 3.15\\} --cycle;
\addplot[face={black!2.5}] table[proj,row sep=\\]{x y z\\ -1.54 1.54 -0.06\\ -1.54 14.46 -0.06\\ -1.54 14.46 3.15\\ -1.54 1.54 3.15\\} --cycle;
\addplot[face={black!4}] table[proj,row sep=\\]{x y z\\ -14.46 1.54 -0.06\\ -1.54 1.54 -0.06\\ -1.54 14.46 -0.06\\ -14.46 14.46 -0.06\\} --cycle;
\addplot[gridc,line width=0.6pt,forget plot] table[proj,row sep=\\]{x y z\\
-14 1.54 -0.06\\ -14 14.46 -0.06\\ -14 14.46 3.15\\ nan nan nan\\
-12 1.54 -0.06\\ -12 14.46 -0.06\\ -12 14.46 3.15\\ nan nan nan\\
-10 1.54 -0.06\\ -10 14.46 -0.06\\ -10 14.46 3.15\\ nan nan nan\\
-8 1.54 -0.06\\ -8 14.46 -0.06\\ -8 14.46 3.15\\ nan nan nan\\
-6 1.54 -0.06\\ -6 14.46 -0.06\\ -6 14.46 3.15\\ nan nan nan\\
-4 1.54 -0.06\\ -4 14.46 -0.06\\ -4 14.46 3.15\\ nan nan nan\\
-2 1.54 -0.06\\ -2 14.46 -0.06\\ -2 14.46 3.15\\ nan nan nan\\
-14.46 2 -0.06\\ -1.54 2 -0.06\\ -1.54 2 3.15\\ nan nan nan\\
-14.46 4 -0.06\\ -1.54 4 -0.06\\ -1.54 4 3.15\\ nan nan nan\\
-14.46 6 -0.06\\ -1.54 6 -0.06\\ -1.54 6 3.15\\ nan nan nan\\
-14.46 8 -0.06\\ -1.54 8 -0.06\\ -1.54 8 3.15\\ nan nan nan\\
-14.46 10 -0.06\\ -1.54 10 -0.06\\ -1.54 10 3.15\\ nan nan nan\\
-14.46 12 -0.06\\ -1.54 12 -0.06\\ -1.54 12 3.15\\ nan nan nan\\
-14.46 14 -0.06\\ -1.54 14 -0.06\\ -1.54 14 3.15\\ nan nan nan\\
-14.46 14.46 0\\ -1.54 14.46 0\\ -1.54 1.54 0\\ nan nan nan\\
-14.46 14.46 1\\ -1.54 14.46 1\\ -1.54 1.54 1\\ nan nan nan\\
-14.46 14.46 2\\ -1.54 14.46 2\\ -1.54 1.54 2\\ nan nan nan\\
-14.46 14.46 3\\ -1.54 14.46 3\\ -1.54 1.54 3\\
};
\addplot[black!80,line width=0.45pt,forget plot] table[proj,row sep=\\]{x y z\\
-1.54 1.54 -0.06\\ -14.46 1.54 -0.06\\ -14.46 14.46 -0.06\\ -14.46 14.46 3.15\\ nan nan nan\\
-14 1.64 -0.06\\ -14 1.25 -0.06\\ nan nan nan\\ -12 1.64 -0.06\\ -12 1.25 -0.06\\ nan nan nan\\
-10 1.64 -0.06\\ -10 1.25 -0.06\\ nan nan nan\\ -8 1.64 -0.06\\ -8 1.25 -0.06\\ nan nan nan\\
-6 1.64 -0.06\\ -6 1.25 -0.06\\ nan nan nan\\ -4 1.64 -0.06\\ -4 1.25 -0.06\\ nan nan nan\\
-2 1.64 -0.06\\ -2 1.25 -0.06\\ nan nan nan\\
-14.36 2 -0.06\\ -14.75 2 -0.06\\ nan nan nan\\ -14.36 4 -0.06\\ -14.75 4 -0.06\\ nan nan nan\\
-14.36 6 -0.06\\ -14.75 6 -0.06\\ nan nan nan\\ -14.36 8 -0.06\\ -14.75 8 -0.06\\ nan nan nan\\
-14.36 10 -0.06\\ -14.75 10 -0.06\\ nan nan nan\\ -14.36 12 -0.06\\ -14.75 12 -0.06\\ nan nan nan\\
-14.36 14 -0.06\\ -14.75 14 -0.06\\ nan nan nan\\
-14.36 14.46 0\\ -14.75 14.46 0\\ nan nan nan\\ -14.36 14.46 1\\ -14.75 14.46 1\\ nan nan nan\\
-14.36 14.46 2\\ -14.75 14.46 2\\ nan nan nan\\ -14.36 14.46 3\\ -14.75 14.46 3\\
};
\addplot[traj,opacity=0.75,line width=0.3pt,smooth,tension=0.6,forget plot] table[proj] {\paths};
\addplot[only marks,mark=*,mark size=2.4pt,blue,mark options={draw=none,fill=blue},forget plot] table[proj] {\bluepts};
\addplot[only marks,mark=*,mark size=2.4pt,red,mark options={draw=none,fill=red},forget plot] table[proj] {\redpts};
% obstacles, far to near
\boxfaces{-4.5}{-4}{11.5}{12}{2}
\boxfaces{-6.5}{-6}{9}{9.5}{1}
\boxfaces{-11}{-10.5}{11.5}{12}{1}
\boxfaces{-9}{-8.5}{9}{9.5}{3}
\boxfaces{-6.5}{-6}{6.5}{7}{1.5}
\boxfaces{-5.5}{-5}{4}{4.5}{3}
\boxfaces{-10}{-9.5}{6.5}{7}{1.5}
\boxfaces{-12}{-11.5}{4}{4.5}{1.5}
\begin{scope}[font=\djv\fontsize{14}{16}\selectfont]
\node at (axis cs:28,314) {3};
\node at (axis cs:36,441) {2};
\node at (axis cs:43,570) {1};
\node at (axis cs:50,692) {0};
\node at (axis cs:79,730) {14};
\node at (axis cs:140,770) {12};
\node at (axis cs:206,808) {10};
\node at (axis cs:274,846) {8};
\node at (axis cs:340,884) {6};
\node at (axis cs:410,923) {4};
\node at (axis cs:481,965) {2};
\node at (axis cs:547,965) {-14};
\node at (axis cs:617,923) {-12};
\node at (axis cs:686,884) {-10};
\node at (axis cs:753,846) {-8};
\node at (axis cs:819,808) {-6};
\node at (axis cs:886,770) {-4};
\node at (axis cs:949,730) {-2};
\end{scope}
\end{axis}

% lower panel: plain top view
\begin{axis}[
  at={(26pt,22.65pt)},anchor=south west,
  width=470.35pt,height=467.1pt,scale only axis,
  xmin=-14.2,xmax=-1.8,ymin=1.8,ymax=14.2,
  xtick={-14,-12,-10,-8,-6,-4,-2},
  xticklabels={-14,-12,-10,-8,-6,-4,-2},
  ytick={2,4,6,8,10,12,14},
  yticklabels={2,4,6,8,10,12,14},
  tick align=outside,major tick length=2.5pt,
  xtick pos=bottom,ytick pos=left,
  ticklabel style={font=\fontsize{13.8}{15}\selectfont},
  axis line style={line width=0.5pt},
  unbounded coords=jump,
]
\addplot[face=obst] coordinates {(-11,11.5)(-10.5,11.5)(-10.5,12)(-11,12)} --cycle;
\addplot[face=obst] coordinates {(-9,9)(-8.5,9)(-8.5,9.5)(-9,9.5)} --cycle;
\addplot[face=obst] coordinates {(-6.5,9)(-6,9)(-6,9.5)(-6.5,9.5)} --cycle;
\addplot[face=obst] coordinates {(-4.5,11.5)(-4,11.5)(-4,12)(-4.5,12)} --cycle;
\addplot[face=obst] coordinates {(-10,6.5)(-9.5,6.5)(-9.5,7)(-10,7)} --cycle;
\addplot[face=obst] coordinates {(-6.5,6.5)(-6,6.5)(-6,7)(-6.5,7)} --cycle;
\addplot[face=obst] coordinates {(-12,4)(-11.5,4)(-11.5,4.5)(-12,4.5)} --cycle;
\addplot[face=obst] coordinates {(-5.5,4)(-5,4)(-5,4.5)(-5.5,4.5)} --cycle;
\addplot[traj,opacity=0.75,line width=0.55pt,smooth,tension=0.6,forget plot] table[x=x,y=y] {\paths};
\addplot[only marks,mark=*,mark size=2.35pt,blue,mark options={draw=none,fill=blue},forget plot] table[x=x,y=y] {\bluepts};
\addplot[only marks,mark=*,mark size=2.35pt,red,mark options={draw=none,fill=red},forget plot] table[x=x,y=y] {\redpts};
\draw[color=black!60,line width=0.8pt] (rel axis cs:0,1)--(rel axis cs:0,0)--(rel axis cs:1,0);
\end{axis}
\end{tikzpicture}
\end{document}
